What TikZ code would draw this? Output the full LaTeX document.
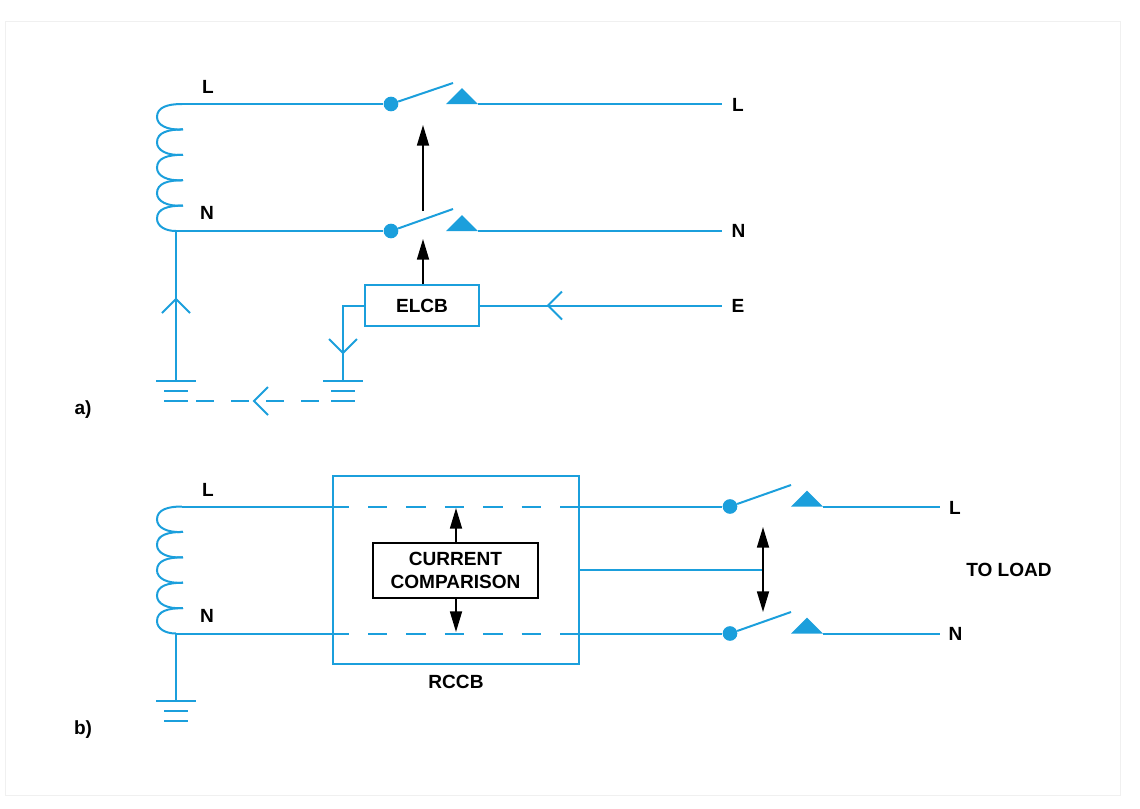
\documentclass[tikz,border=0pt]{standalone}
\usepackage{fontspec}
\setmainfont{Liberation Sans}
\usetikzlibrary{arrows.meta}
\definecolor{wireblue}{HTML}{1B9FDC}
\tikzset{
  wire/.style={draw=wireblue,line width=1.5pt},
  ctrl/.style={draw=black,line width=1.3pt,-{Triangle[length=15.5pt,width=9pt]}},
  lab/.style={font=\bfseries\fontsize{14.3}{17.25}\selectfont,inner sep=0pt,anchor=base},
  swdot/.style={circle,fill=wireblue,inner sep=0pt,minimum size=11pt},
  openhead/.pic={\draw[wire] (-14,14) -- (0,0) -- (14,14);},
  contact/.pic={\fill[wireblue] (0,0) -- (16,-16) -- (32,0) -- cycle;
    \coordinate (-out) at (32,0);},
  earth/.pic={\draw[wire] (-20,0) -- (20,0);
    \draw[wire] (-12,10) -- (12,10);
    \draw[wire] (-12,20) -- (12,20);},
  coil/.pic={\draw[wire] (6,0) .. controls (-8,0) and (-19,3) .. (-19,13)
      .. controls (-19,21) and (-9,26.5) .. (7,25.4);
    \foreach \k in {1,2,3}
      \draw[wire] (7,25.4*\k) .. controls (-8,25.4*\k) and (-19,25.4*\k+3) .. (-19,25.4*\k+13)
        .. controls (-19,25.4*\k+21) and (-9,25.4*\k+26.5) .. (7,25.4*\k+25.4);
    \draw[wire] (7,101.6) .. controls (-8,101.6) and (-19,104.6) .. (-19,114.6)
      .. controls (-19,122) and (-11,127) .. (0,127);}
}
\begin{document}
\begin{tikzpicture}[x=0.75pt,y=-0.75pt]
  \useasboundingbox (0,0) rectangle (1140,808);
  \draw[black!6,line width=1.3pt] (5.5,21.5) rectangle (1120.5,795.5);

  % a) ELCB
  \pic at (176,104) {coil};
  \coordinate (aL) at (182,104);
  \coordinate (aN) at (176,231);
  \node[swdot] (swaL) at (391,104) {};
  \node[swdot] (swaN) at (391,231) {};
  \coordinate (bladeaL) at (453,83);
  \coordinate (bladeaN) at (453,209);
  \pic (caL) at (446,104) {contact};
  \pic (caN) at (446,231) {contact};
  \coordinate (endaL) at (722,104);
  \coordinate (endaN) at (722,231);
  \coordinate (endaE) at (722,305.5);
  \draw[wire] (aL) -- (swaL);
  \draw[wire] (aN) -- (swaN);
  \draw[wire] (swaL) -- (bladeaL);
  \draw[wire] (swaN) -- (bladeaN);
  \draw[wire] (caL-out) -- (endaL);
  \draw[wire] (caN-out) -- (endaN);
  \node[lab] (laL) at (208,93) {L};
  \node[lab] (laN) at (207,219) {N};
  \node[lab] (rlaL) at (738,111) {L};
  \node[lab] (rlaN) at (738.5,237.5) {N};
  \node[lab] (rlaE) at (738,312.5) {E};

  \node[wire,lab,anchor=center,minimum width=85.5pt,minimum height=30.75pt] (elcb) at (422,305.5) {ELCB};
  \coordinate (tipN) at (423,239);
  \coordinate (tipL) at (423,125);
  \coordinate (tailL) at (423,211);
  \draw[ctrl] (elcb.north -| tipN) -- (tipN);
  \draw[ctrl] (tailL) -- (tipL);
  \draw[wire] (elcb.east) -- (endaE);
  \pic[rotate=90] at (548,305.5) {openhead};

  \coordinate (gaL) at (176,381);
  \coordinate (gaR) at (343,381);
  \pic at (gaL) {earth};
  \pic at (gaR) {earth};
  \draw[wire] (aN) -- (gaL);
  \draw[wire] (elcb.west) -| (gaR);
  \pic at (176,299) {openhead};
  \pic[rotate=180] at (343,353) {openhead};
  \coordinate (dashL) at (196,401);
  \coordinate (dashR) at (319,401);
  \draw[wire,dash pattern=on 13.5pt off 12.75pt] (dashL) -- (dashR);
  \pic[rotate=90] at (254,401) {openhead};
  \node[lab] (tagA) at (83,414) {a)};

  % b) RCCB
  \pic at (176,506.5) {coil};
  \coordinate (bL) at (182,506.5);
  \coordinate (bN) at (176,633.5);
  \node[wire,minimum width=184.5pt,minimum height=141pt,inner sep=0pt] (rccb) at (456,570) {};
  \node[swdot] (swbL) at (730,506.5) {};
  \node[swdot] (swbN) at (730,633.5) {};
  \coordinate (bladebL) at (791,485);
  \coordinate (bladebN) at (791,612);
  \pic (cbL) at (791,506.5) {contact};
  \pic (cbN) at (791,633.5) {contact};
  \coordinate (endbL) at (940,506.5);
  \coordinate (endbN) at (940,633.5);
  \foreach \nm/\yy in {L/506.5,N/633.5}{
    \coordinate (inb\nm) at (349,\yy);
    \coordinate (dsb\nm) at (368,\yy);
    \coordinate (dtb\nm) at (542,\yy);
    \coordinate (outb\nm) at (560,\yy);
    \draw[wire,dash pattern=on 14.6pt off 14.2pt] (dsb\nm) -- (dtb\nm);
    \draw[wire] (outb\nm) -- (swb\nm);
    \draw[wire] (swb\nm) -- (bladeb\nm);
    \draw[wire] (cb\nm-out) -- (endb\nm);
  }
  \draw[wire] (bL) -- (inbL);
  \draw[wire] (bN) -- (inbN);
  \node[lab] (lbL) at (208,496) {L};
  \node[lab] (lbN) at (207,622) {N};
  \node[lab] (rlbL) at (955,514) {L};
  \node[lab] (rlbN) at (955.5,640.5) {N};
  \node[lab] (toload) at (1009,576.5) {TO LOAD};
  \node[lab] (rccbtag) at (456,688) {RCCB};

  \node[draw=black,line width=1.3pt,lab,anchor=center,align=center,minimum width=123.75pt,minimum height=41.25pt] (cmp) at (455.5,570.5) {CURRENT\\COMPARISON};
  \coordinate (cmptop) at (456,508);
  \coordinate (cmpbot) at (456,632);
  \draw[ctrl] (cmp.north -| cmptop) -- (cmptop);
  \draw[ctrl] (cmp.south -| cmpbot) -- (cmpbot);

  \coordinate (trip) at (763,570);
  \coordinate (tripT) at (763,527);
  \coordinate (tripB) at (763,612);
  \draw[wire] (rccb.east) -- (trip);
  \draw[ctrl,{Triangle[length=15.5pt,width=9pt]}-{Triangle[length=15.5pt,width=9pt]}] (tripT) -- (tripB);

  \coordinate (gbL) at (176,701);
  \pic at (gbL) {earth};
  \draw[wire] (bN) -- (gbL);
  \node[lab] (tagB) at (83,734) {b)};
\end{tikzpicture}
\end{document}
